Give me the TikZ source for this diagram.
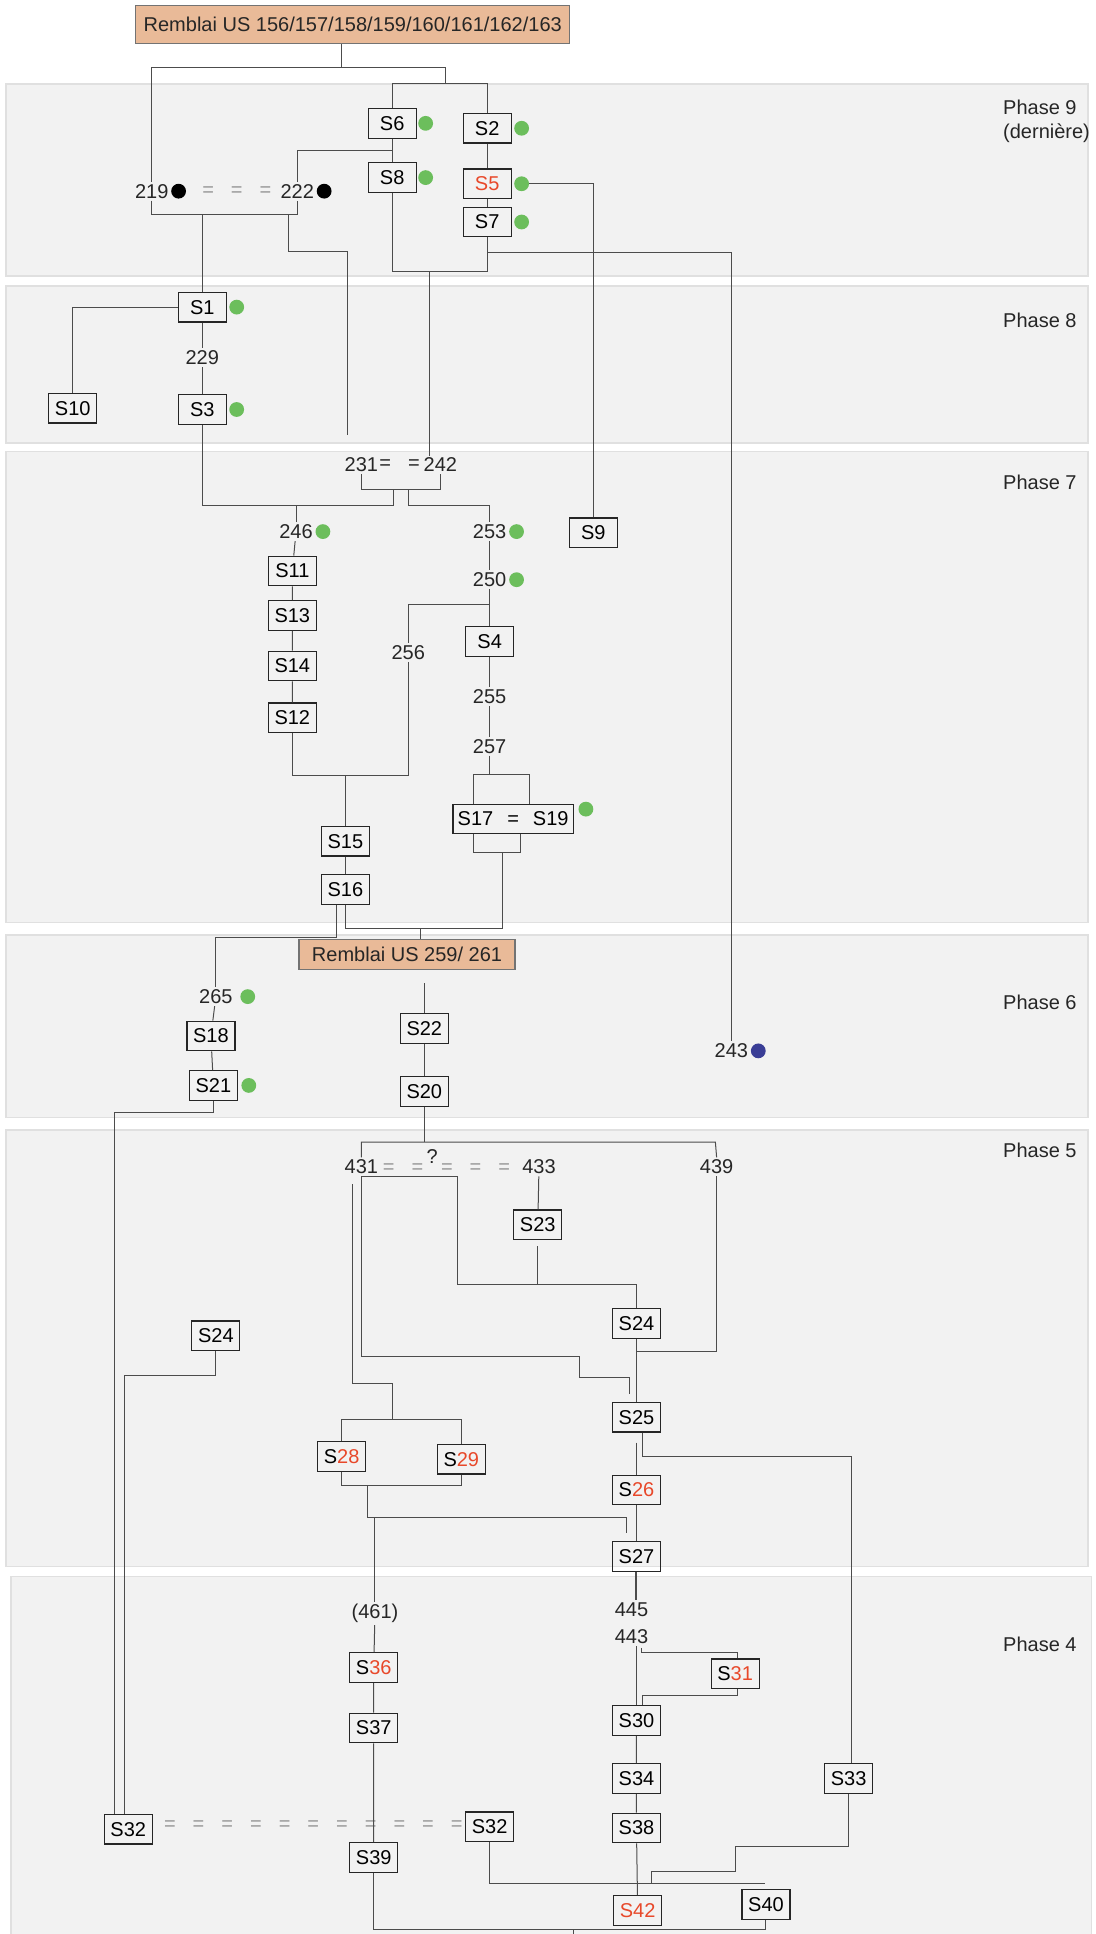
\documentclass[tikz,border=0pt]{standalone}
\usepackage{fontspec}
\setmainfont{Liberation Sans}
\usetikzlibrary{positioning}
\definecolor{pe}{RGB}{233,186,152}
\definecolor{gn}{RGB}{108,190,92}
\definecolor{bu}{RGB}{58,62,150}
\definecolor{rd}{RGB}{232,72,42}
\definecolor{bg}{RGB}{242,242,242}
\definecolor{bgl}{RGB}{224,224,224}
\tikzset{bx/.style={draw=black!85,line width=.6pt,minimum width=24pt,minimum height=14.8pt,inner sep=1pt},
 nb/.style={inner sep=1pt,text=black!85},gd/.style={circle,fill=gn,inner sep=0pt,minimum size=7.4pt},
 kd/.style={gd,fill=black},bd/.style={gd,fill=bu},rb/.style={draw=black!55,fill=pe,line width=.6pt,text=black!85},
 eqs/.style={text=black!40,inner sep=0pt},ph/.style={anchor=west,align=left,inner sep=0pt,text=black!85},
 ln/.style={draw=black!70,line width=.5pt},band/.style={fill=bg,draw=bgl,line width=.8pt}}
\newcommand{\Sr}[1]{S\textcolor{rd}{#1}}
\newcommand{\eqgap}{\hspace{8.5pt}}
\begin{document}
\begin{tikzpicture}[x=0.6166pt,y=-0.6166pt]
\useasboundingbox (0,0) rectangle (888,1568);
\draw[band](5,68) rectangle (882,224);\draw[band](5,232) rectangle (882,359);\draw[band](5,366) rectangle (882,748);
\draw[band](5,758) rectangle (882,906);\draw[band](5,916) rectangle (882,1270);\draw[band](9,1278) rectangle (885,1575);
\node[ph](p9) at (813,98){Phase 9\\(dernière)};\node[ph](p8) at (813,260){Phase 8};\node[ph](p7) at (813,391){Phase 7};
\node[ph](p6) at (813,813){Phase 6};\node[ph](p5) at (813,933){Phase 5};\node[ph](p4) at (813,1333){Phase 4};
\node[rb,minimum width=217pt,minimum height=19pt](r1) at (286,20){Remblai US 156/157/158/159/160/161/162/163};
\node[bx](s6) at (318,100){S6};\node[gd,right=.5pt of s6](g6){};\node[bx](s2) at (395,104){S2};\node[gd,right=1pt of s2](g2){};
\node[bx](s8) at (318,144){S8};\node[gd,right=.5pt of s8](g8){};\node[bx](s5) at (395,149){\color{rd}S5};\node[gd,right=1pt of s5](g5){};
\node[bx](s7) at (395,180){S7};\node[gd,right=1pt of s7](g7){};
\node[nb](n219) at (123,155){219};\node[kd,right=0pt of n219](k219){};\node[eqs](e9) at (192,155){=\eqgap=\eqgap=};
\node[nb](n222) at (241,155){222};\node[kd,right=0pt of n222](k222){};
\node[bx](s1) at (164,249){S1};\node[gd,right=1pt of s1](g1){};\node[nb](n229) at (164,290){229};
\node[bx](s3) at (164,332){S3};\node[gd,right=1pt of s3](g3){};\node[bx](s10) at (59,331){S10};
\node[nb](n231) at (293,377){231};\node[nb,inner sep=0pt](e7) at (324,377){=\eqgap=};\node[nb](n242) at (357,377){242};
\node[nb](n246) at (240,431){246};\node[gd,right=0pt of n246](g246){};\node[nb](n253) at (397,431){253};\node[gd,right=0pt of n253](g253){};
\node[bx](s9) at (481,432){S9};\node[nb](n250) at (397,470){250};\node[gd,right=0pt of n250](g250){};
\node[bx](s11) at (237,463){S11};\node[bx](s13) at (237,499){S13};\node[bx](s14) at (237,540){S14};\node[bx](s12) at (237,582){S12};
\node[nb](n256) at (331,529){256};\node[bx](s4) at (397,520){S4};\node[nb](n255) at (397,565){255};\node[nb](n257) at (397,605){257};
\node[bx,minimum width=60pt](s1719) at (416,664){S17\hspace{7pt}=\hspace{7pt}S19};\node[gd](g17) at (475,656){};
\node[bx](s15) at (280,682){S15};\node[bx](s16) at (280,721){S16};
\node[rb,minimum width=108pt,minimum height=14.8pt](r2) at (330,774){Remblai US 259/ 261};
\node[nb](n265) at (175,808){265};\node[gd,right=2.5pt of n265](g265){};
\node[bx](s18) at (171,840){S18};\node[bx](s21) at (173,880){S21};\node[gd,right=1.5pt of s21](g21){};
\node[bx](s22) at (344,834){S22};\node[bx](s20) at (344,885){S20};\node[nb](n243) at (593,852){243};\node[bd,right=0pt of n243](b243){};
\node[nb](n431) at (293,946){431};
\node[eqs,anchor=base west](e5) at ([xshift=1pt]n431.base east){=\eqgap=\,\raisebox{5pt}{\color{black!85}?}\,=\eqgap=\eqgap=};
\node[nb](n433) at (437,946){433};\node[nb](n439) at (581,946){439};\node[bx](s23) at (436,993){S23};
\node[bx](s24b) at (516,1073){S24};\node[bx](s24a) at (175,1083){S24};\node[bx](s25) at (516,1149){S25};
\node[bx](s28) at (277,1181){\Sr{28}};\node[bx](s29) at (374,1183){\Sr{29}};
\node[bx](s26) at (516,1208){\Sr{26}};\node[bx](s27) at (516,1262){S27};
\node[nb](n445) at (512,1305){445};\node[nb](n443) at (512,1327){443};\node[nb](n461) at (304,1308){(461)};
\node[bx](s36) at (303,1352){\Sr{36}};\node[bx](s37) at (303,1401){S37};\node[bx](s39) at (303,1506){S39};
\node[bx](s31) at (596,1357){\Sr{31}};\node[bx](s30) at (516,1395){S30};\node[bx](s34) at (516,1442){S34};
\node[bx](s38) at (516,1482){S38};\node[bx](s42) at (517,1549){\color{rd}S42};
\node[bx](s32a) at (104,1483){S32};\node[bx](s32b) at (397,1481){S32};
\node[eqs](e4) at (254,1480){=\eqgap=\eqgap=\eqgap=\eqgap=\eqgap=\eqgap=\eqgap=\eqgap=\eqgap=\eqgap=};
\node[bx](s33) at (688,1442){S33};\node[bx](s40) at (621,1544){S40};
\coordinate (c1) at (277,55);\coordinate (c2) at (361,55);\coordinate (c3) at (361,68);\coordinate (c4) at (318,122);
\coordinate (c5) at (348,220);\coordinate (c6) at (395,205);\coordinate (c7) at (164,174);\coordinate (c8) at (234,174);
\coordinate (c9) at (234,204);\coordinate (c10) at (282,204);\coordinate (c11) at (282,353);
\draw[ln](r1.south-|c1)--(c1);\draw[ln](n219.north)|-(c2)--(c3);\draw[ln](s6.north)|-(c3)-|(s2.north);
\draw[ln](s6)--(s8);\draw[ln](s2)--(s5)--(s7);\draw[ln](n222.north)|-(c4);\draw[ln](g5.east)-|(s9.north);
\draw[ln](s8.south)|-(c5)-|(s7.south);\draw[ln](c5)--(c5|-n242.north);\draw[ln](c6)-|(n243.north);
\draw[ln](n219.south)|-(c8)-|(n222.south);\draw[ln](c7)--(s1.north);\draw[ln](c8)--(c9)--(c10)--(c11);
\draw[ln](s1)--(n229)--(s3);\draw[ln](s1.west)-|(s10.north);
\coordinate (k1) at (319,397);\coordinate (k2) at (331,397);\coordinate (k3) at (319,410);\coordinate (k4) at (331,410);
\draw[ln](n231.south)|-(k1)--(k2)-|(n242.south);\draw[ln](s3.south)|-(k3)--(k1);
\draw[ln](n246.north)--(n246.north|-k3);\draw[ln](k2)--(k4)-|(n253.north);
\draw[ln](n246)--(s11)--(s13)--(s14)--(s12);\draw[ln](n253)--(n250)--(s4)--(n255)--(n257);
\coordinate (k5) at (397,490);\coordinate (k6) at (280,629);\draw[ln](k5)-|(n256.north);
\draw[ln](n256.south)|-(k6)-|(s12.south);\draw[ln](k6)--(s15.north);\draw[ln](s15)--(s16);
\coordinate (k7) at (397,628);\coordinate (k8) at (384,628);\coordinate (k9) at (429,628);
\coordinate (k10) at (384,691);\coordinate (k11) at (422,691);\coordinate (k12) at (407,691);\coordinate (k13) at (407,753);
\draw[ln](n257)--(k7);\draw[ln](k8|-s1719.north)--(k8)--(k9)--(k9|-s1719.north);
\draw[ln](k10|-s1719.south)--(k10)--(k11)--(k11|-s1719.south);\draw[ln](k12)--(k13)-|(s16.south);
\coordinate (k14) at (273,760);\coordinate (k15) at (341,753);
\draw[ln](k14|-s16.south)--(k14)-|(n265.north);\draw[ln](k15)--(k15|-r2.north);
\draw[ln](n265)--(s18)--(s21);\coordinate (k16) at (93,902);\draw[ln](s21.south)|-(k16)--(k16|-s32a.north);
\coordinate (k17) at (344,797);\draw[ln](k17)--(s22.north);\draw[ln](s22)--(s20);
\coordinate (k18) at (293,926);\coordinate (k19) at (580,926);
\draw[ln](s20.south)--(s20.south|-k18);\draw[ln](n431.north)|-(k19)--(n439.north);
\coordinate (k21) at (293,1100);\coordinate (k22) at (470,1117);\coordinate (k23) at (510,1130);\coordinate (k24) at (371,1041);
\draw[ln](n431.south)--(k21)-|(k22)-|(k23);\draw[ln](n431.south)-|(k24)-|(s24b.north);
\draw[ln](n433)--(s23);\draw[ln,shorten <=3pt](s23.south)--(s23.south|-k24);
\coordinate (k25) at (286,960);\coordinate (k26) at (318,1122);\coordinate (k27) at (318,1151);
\draw[ln](k25)|-(k26)--(k27);\draw[ln](s28.north)|-(k27)-|(s29.north);
\coordinate (k28) at (516,1096);\draw[ln](n439.south)|-(k28);\draw[ln](s24b)--(s25);
\coordinate (k29) at (690,1181);\draw[ln]([xshift=3pt]s25.south)|-(k29)--(k29|-s33.north);
\draw[ln,shorten <=5pt](s25.south)--(s26.north);\draw[ln](s26)--(s27);
\coordinate (k31) at (298,1204);\coordinate (k33) at (298,1230);\coordinate (k32) at (508,1243);\coordinate (k34) at (304,1230);
\draw[ln](s28.south)|-(k31)-|(s29.south);\draw[ln](k31)--(k33)-|(k32);\draw[ln](k34)--(n461.north);
\coordinate (k44) at (101,1115);\draw[ln](s24a.south)|-(k44)--(k44|-s32a.north);
\draw[ln,line width=1pt](s27.south)--(s27.south|-n445.north);
\coordinate (k36) at (520,1336);\coordinate (k35) at (598,1340);\coordinate (k37) at (521,1375);
\draw[ln](s30.north|-n443.south)--(s30.north);\draw[ln](k36)|-(k35)--(k35|-s31.north);
\draw[ln](k35|-s31.south)|-(k37)--(k37|-s30.north);\draw[ln](s30)--(s34)--(s38)--(s42);
\draw[ln](n461)--(s36)--(s37)--(s39);
\coordinate (k38) at (596,1497);\coordinate (k39) at (528,1517);\coordinate (k40) at (528,1527);\coordinate (k41) at (620,1527);
\draw[ln](s33.south)|-(k38)|-(k39)--(k40);\draw[ln](s32b.south)|-(k41);
\coordinate (k42) at (465,1564);\coordinate (k43) at (465,1570);
\draw[ln](s39.south)|-(k42)-|(s40.south);\draw[ln](k42)--(k43);
\end{tikzpicture}
\end{document}
